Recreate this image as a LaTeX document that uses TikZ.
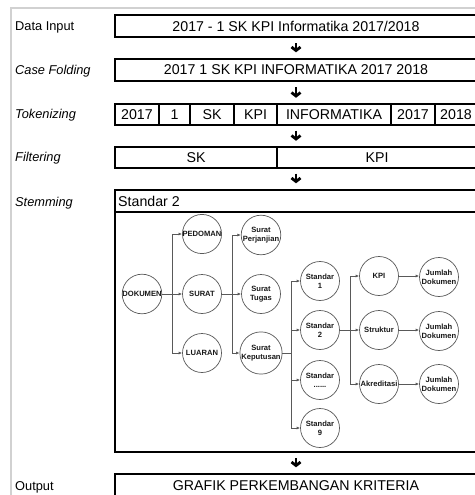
\documentclass[tikz,border=0pt]{standalone}
\usepackage{fontspec}
\setmainfont{Liberation Sans}
\usetikzlibrary{arrows.meta}
\newcommand\bigtxt{\fontsize{14.2bp}{17bp}\selectfont}
\newcommand\labtxt{\fontsize{12.8bp}{15bp}\selectfont}
\newcommand\circtxt{\fontsize{7.6bp}{8.8bp}\selectfont\bfseries}
\begin{document}
\begin{tikzpicture}[x=1bp,y=-1bp,
  stage/.style={draw, line width=1.4bp, inner sep=0, minimum height=22bp, font=\bigtxt},
  cell/.style={draw, line width=1.4bp, inner sep=0, minimum height=21bp, font=\bigtxt},
  row/.style={inner sep=0, minimum height=21bp, minimum width=362bp},
  lab/.style={anchor=west, font=\labtxt, inner sep=0},
  bigarr/.style={line width=2.8bp, -{Straight Barb[length=3.5bp,width=9bp,line width=2.8bp]}, shorten <=5.5bp, shorten >=6bp},
  circ/.style={circle, draw=black!65, line width=0.7bp, minimum size=39bp, inner sep=0, align=center, font=\circtxt, text=black!90},
  conn/.style={draw=black!65, line width=0.7bp},
  carr/.style={conn, -{Latex[length=3.5bp,width=3bp]}}
]
\clip (0,0) rectangle (475,495);
\fill[white] (0,0) rectangle (475,495);
% frame
\draw[black!18, line width=2bp] (11,495) -- (11,8) -- (475,8);

% labels
\node[lab] (l1) at (15,27) {Data Input};
\node[lab] (l2) at (15,71) {\itshape Case Folding};
\node[lab] (l3) at (15,115) {\itshape Tokenizing};
\node[lab] (l4) at (15,158) {\itshape Filtering};
\node[lab] (l5) at (15,203) {\itshape Stemming};
\node[lab] (l6) at (15,487) {Output};

% stages
\node[stage, minimum width=362bp] (din) at (296,26) {2017 - 1 SK KPI Informatika 2017/2018};
\node[stage, minimum width=362bp] (cf) at (296,70) {2017 1 SK KPI INFORMATIKA 2017 2018};

\node[row] (tok) at (296,114.5) {};
\node[cell, minimum width=44bp] (c1) at (137,114.5) {2017};
\node[cell, minimum width=31bp] (c2) at (174.5,114.5) {1};
\node[cell, minimum width=44bp] (c3) at (212,114.5) {SK};
\node[cell, minimum width=43bp] (c4) at (255.5,114.5) {KPI};
\node[cell, minimum width=114bp] (c5) at (334,114.5) {INFORMATIKA};
\node[cell, minimum width=44bp] (c6) at (413,114.5) {2017};
\node[cell, minimum width=42bp] (c7) at (456,114.5) {2018};

\node[row] (filt) at (296,157.5) {};
\node[cell, minimum width=162bp] (f1) at (196,157.5) {SK};
\node[cell, minimum width=200bp] (f2) at (377,157.5) {KPI};

\node[stage, minimum width=362bp, minimum height=262bp] (stem) at (296,321) {};
\coordinate (hl) at (115,212);
\coordinate (hr) at (477,212);
\draw[line width=1.4bp] (hl) -- (hr);
\node[anchor=west, font=\bigtxt, inner sep=0] (hdr) at (118,201) {Standar 2};

\node[stage, minimum width=362bp, minimum height=23bp] (out) at (296,485.5) {GRAFIK PERKEMBANGAN KRITERIA};

% big arrows
\draw[bigarr] (din) -- (cf);
\draw[bigarr] (cf) -- (tok);
\draw[bigarr] (tok) -- (filt);
\draw[bigarr] (filt) -- (stem);
\draw[bigarr] (stem) -- (out);

% tree
\node[circ] (dok) at (142,294) {DOKUMEN};
\node[circ] (ped) at (202,234) {PEDOMAN};
\node[circ] (sur) at (202,294) {SURAT};
\node[circ] (lua) at (202,353) {LUARAN};
\node[circ] (spj) at (261,235) {Surat\\Perjanjian};
\node[circ] (stg) at (261,294) {Surat\\Tugas};
\node[circ] (skp) at (261,353) {Surat\\Keputusan};
\node[circ] (s1) at (320,281) {Standar\\1};
\node[circ] (s2) at (320,330) {Standar\\2};
\node[circ] (s3) at (320,380) {Standar\\......};
\node[circ] (s9) at (320,428) {Standar\\9};
\node[circ] (kpi) at (379,276) {KPI};
\node[circ] (str) at (379,330) {Struktur};
\node[circ] (akr) at (379,384) {Akreditasi};
\node[circ] (j1) at (439,277) {Jumlah\\Dokumen};
\node[circ] (j2) at (439,331) {Jumlah\\Dokumen};
\node[circ] (j3) at (439,384) {Jumlah\\Dokumen};

\coordinate (t1) at (172,294);
\coordinate (t2) at (232,294);
\coordinate (t3) at (291,353);
\coordinate (t4) at (350,330);

\draw[conn] (dok) -- (t1);
\draw[carr] (t1) |- (ped.west);
\draw[carr] (t1) -- (sur);
\draw[carr] (t1) |- (lua.west);

\draw[conn] (sur) -- (t2);
\draw[carr] (t2) |- (spj.west);
\draw[carr] (t2) -- (stg);
\draw[carr] (t2) |- (skp.west);

\draw[conn] (skp) -- (t3);
\draw[carr] (t3) |- (s1.west);
\draw[carr] (t3) |- (s2.west);
\draw[carr] (t3) |- (s3.west);
\draw[carr] (t3) |- (s9.west);

\draw[conn] (s2) -- (t4);
\draw[carr] (t4) |- (kpi.west);
\draw[carr] (t4) -- (str);
\draw[carr] (t4) |- (akr.west);

\draw[carr] (kpi) -- (kpi -| j1.west);
\draw[carr] (str) -- (str -| j2.west);
\draw[carr] (akr) -- (j3);
\end{tikzpicture}
\end{document}
